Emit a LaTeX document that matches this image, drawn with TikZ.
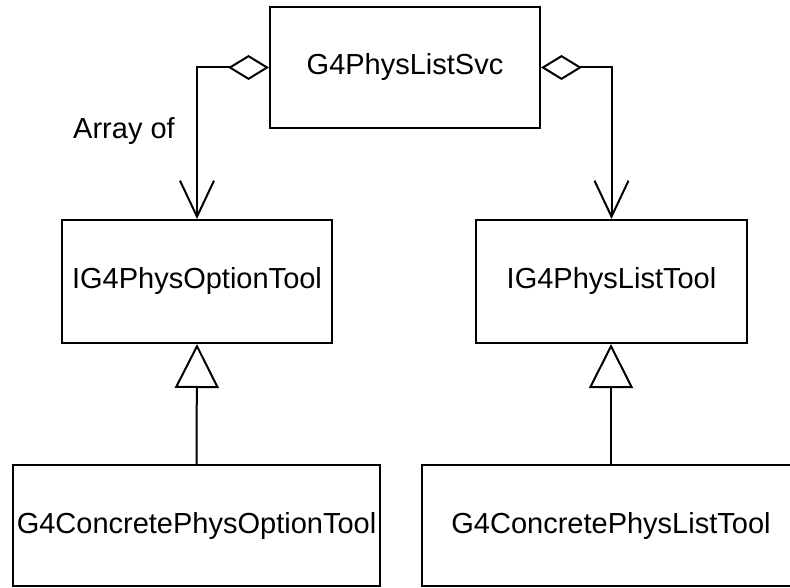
\documentclass[tikz,border=0pt]{standalone}
\usepackage{fontspec}
\setmainfont{Liberation Sans}
\usetikzlibrary{arrows.meta}
\begin{document}
\begin{tikzpicture}[x=1pt,y=-1pt,
  classbox/.style={draw=black, line width=2pt, inner sep=0pt, fill=white,
    font=\fontsize{29}{34}\selectfont},
  aggr/.style={line width=2pt,
    {Diamond[open,length=41pt,width=25pt,line width=2pt]}-{Straight Barb[length=36pt,width=34pt,line width=2pt]}},
  inherit/.style={line width=2pt,
    -{Triangle[open,length=44pt,width=44pt,line width=2pt]}},
  lbl/.style={font=\fontsize{29}{34}\selectfont, inner sep=0pt}]
  \useasboundingbox (0,0) rectangle (790,588);
  \clip (0,0) rectangle (790,588);
  \fill[white] (0,0) rectangle (790,588);

  % classes
  \node[classbox, minimum width=270pt, minimum height=121pt] (svc) at (405,67.5) {G4PhysListSvc};
  \node[classbox, minimum width=270pt, minimum height=123pt] (opt) at (197,281.5) {IG4PhysOptionTool};
  \node[classbox, minimum width=271pt, minimum height=123pt] (lst) at (611.5,281.5) {IG4PhysListTool};
  \node[classbox, minimum width=367pt, minimum height=121pt] (copt) at (196.5,525.5) {G4ConcretePhysOptionTool};
  \node[classbox, minimum width=378pt, minimum height=121pt] (clst) at (611,525.5) {G4ConcretePhysListTool};

  % aggregation links
  \draw[aggr] (svc.west) -| (opt.north);
  \draw[aggr] (svc.east) -| (lst.north);
  \node[lbl] (arr) at (124,131) {Array of};

  % generalisation links
  \draw[inherit] (copt.north) -- (opt.south);
  \draw[inherit] (clst.north) -- (clst.north |- lst.south);
\end{tikzpicture}
\end{document}
